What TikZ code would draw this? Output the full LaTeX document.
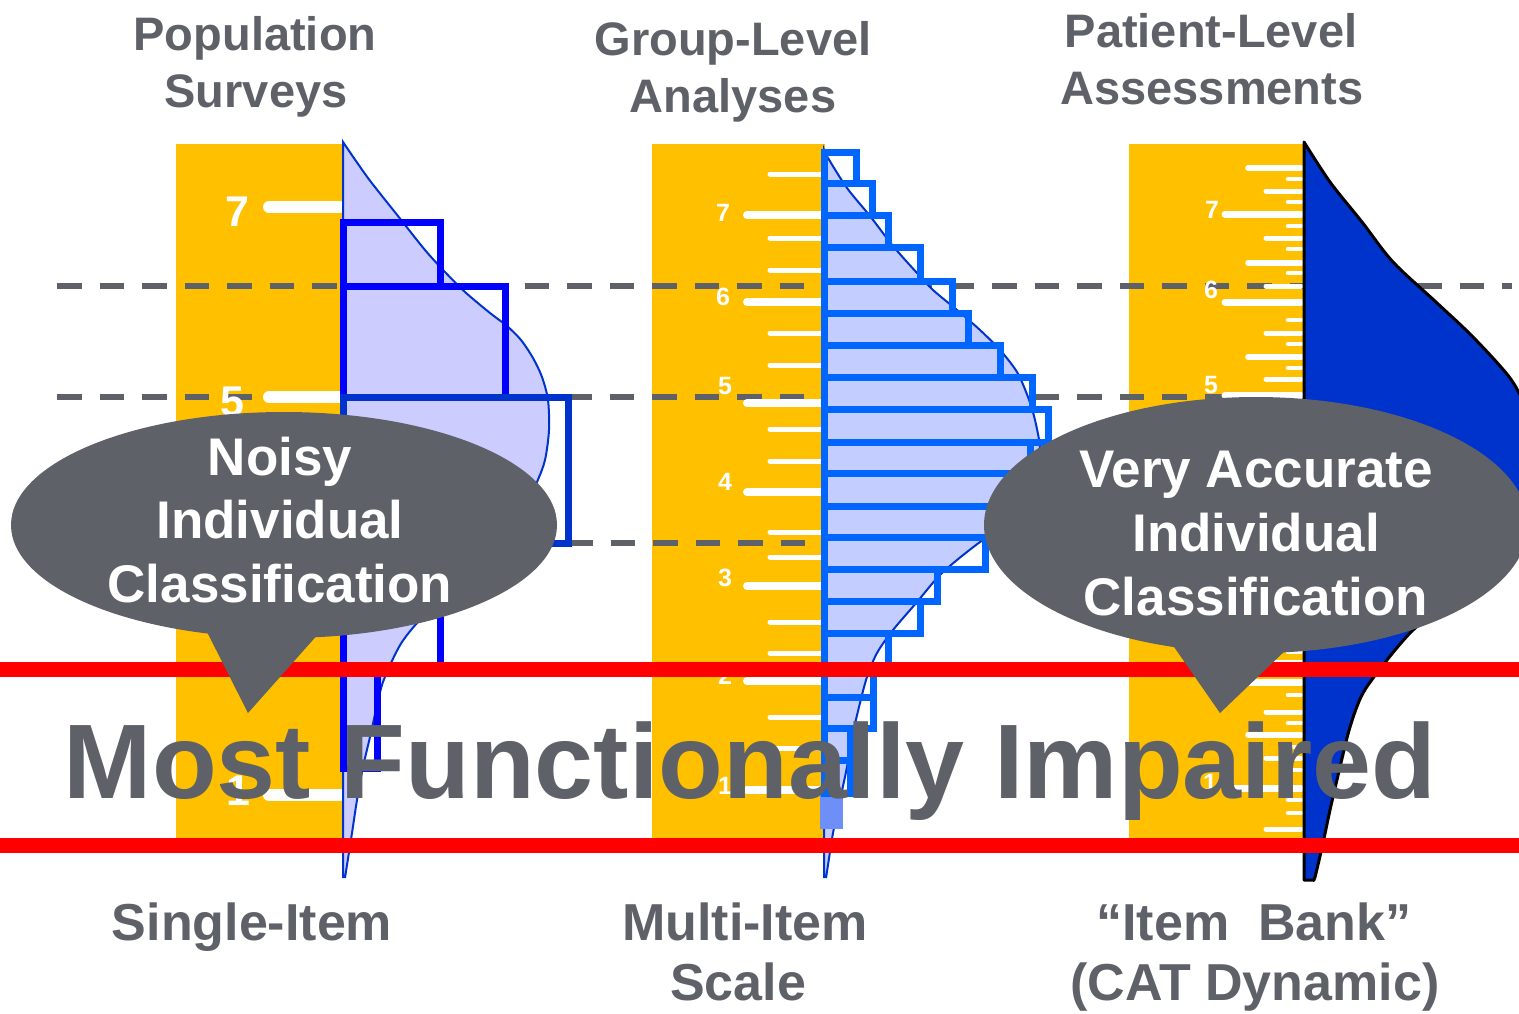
\documentclass[tikz,border=0pt]{standalone}
\usepackage{fontspec}
\setmainfont{Liberation Sans}
\definecolor{gold}{HTML}{FFC000}
\definecolor{slate}{HTML}{5F6168}
\definecolor{pureblue}{HTML}{0000FF}
\definecolor{deepblue}{HTML}{0033CC}
\definecolor{midblue}{HTML}{0066FF}
\definecolor{lavender}{HTML}{CCCCFF}
\definecolor{paleblue}{HTML}{C3CDFF}
\definecolor{fadeblue}{HTML}{6E8FF8}
\definecolor{alarm}{HTML}{FF0000}
\tikzset{
  ruler/.style={fill=gold, draw=none},
  guide/.style={draw=slate, line width=6pt, dash pattern=on 24.5pt off 18pt},
  lefttick/.style={draw=white, line width=12pt, line cap=round},
  midlong/.style={draw=white, line width=8pt, line cap=round},
  midshort/.style={draw=white, line width=5pt, line cap=round},
  rtL/.style={draw=white, line width=7pt, line cap=round},
  rtML/.style={draw=white, line width=5.5pt, line cap=round},
  rtM/.style={draw=white, line width=5pt, line cap=round},
  rtS/.style={draw=white, line width=4.5pt, line cap=round},
  biglabel/.style={text=white, inner sep=0, font=\fontsize{43}{43}\selectfont\bfseries},
  smalllabel/.style={text=white, inner sep=0, font=\fontsize{25}{25}\selectfont\bfseries},
  leftbar/.style={draw=pureblue, line width=7pt},
  midbar/.style={draw=midblue, line width=7pt},
  thincurve/.style={draw=deepblue, line width=2pt},
  redline/.style={draw=alarm, line width=15pt},
  bubble/.style={fill=slate},
  bubbletext/.style={text=white, inner sep=0, anchor=base, font=\fontsize{53}{63}\selectfont\bfseries},
  titletext/.style={text=slate, inner sep=0, anchor=base, font=\fontsize{47}{56}\selectfont\bfseries},
  foottext/.style={text=slate, inner sep=0, anchor=base, font=\fontsize{52}{60}\selectfont\bfseries},
  hugetext/.style={text=slate, inner sep=0, anchor=base, font=\fontsize{106}{110}\selectfont\bfseries}
}
\begin{document}
\begin{tikzpicture}[x=1pt,y=-1pt]
\useasboundingbox (0,0) rectangle (1519,1013);
\clip (0,0) rectangle (1519,1013);

% rulers
\fill[ruler] (176,144) rectangle (343,838);
\fill[ruler] (652,144) rectangle (825,838);
\fill[ruler] (1129,144) rectangle (1304,838);

% dashed guide lines
\draw[guide] (57,286) -- (1512,286);
\draw[guide] (57,397) -- (1512,397);
\draw[guide] (568,543) -- (806,543);

% left ruler ticks and labels
\foreach \yy in {207,397,795} \draw[lefttick] (269,\yy) -- (340,\yy);
\node[biglabel] (l7) at (237,212) {7};
\node[biglabel] (l5) at (232,402) {5};
\node[biglabel] (l1) at (238,791) {1};

% middle ruler ticks and labels
\foreach \yy in {215,302,403,492,586,681,790} \draw[midlong] (747,\yy) -- (821,\yy);
\foreach \yy in {174,238,270,333,365,429,461,532,557,622,653,717,748} \draw[midshort] (770,\yy) -- (821,\yy);
\node[smalllabel] (m7) at (723,213) {7};
\node[smalllabel] (m6) at (723,297) {6};
\node[smalllabel] (m5) at (725,386) {5};
\node[smalllabel] (m4) at (725,482) {4};
\node[smalllabel] (m3) at (725,578) {3};
\node[smalllabel] (m2) at (725,676) {2};
\node[smalllabel] (m1) at (725,786) {1};

% right ruler ticks and labels
\foreach \yy in {214,302,395,490,586,682,788} \draw[rtL] (1225,\yy) -- (1301,\yy);
\foreach \yy in {168,263,357,452,547,640,735} \draw[rtML] (1248,\yy) -- (1301,\yy);
\foreach \yy in {191,238,286,333,379,428,475,522,570,617,662,712,758,829} \draw[rtM] (1266,\yy) -- (1301,\yy);
\foreach \yy in {179,202,226,249,273,320,344,368,415,440,464,510,535,558,604,628,652,695,723,747,770,800,813} \draw[rtS] (1288,\yy) -- (1301,\yy);
\node[smalllabel] (r7) at (1212,210) {7};
\node[smalllabel] (r6) at (1211,290) {6};
\node[smalllabel] (r5) at (1211,385) {5};
\node[smalllabel] (r1) at (1210,783) {1};

% left density
\path[fill=lavender] (343,878) -- (343,142) -- plot[smooth, tension=0.5] coordinates {(343,142) (368,178) (398,216) (425,250) (445,272) (465,292) (490,313) (507,326) (521,340) (533,358) (542,377) (548,400) (549,430) (545,460) (537,482) (522,515) (500,548) (470,578) (440,602) (418,622) (402,642) (391,663) (382,685) (376,710) (370,737) (363,767) (357,800) (352,833) (347,865) (345,878)} -- cycle;
\draw[thincurve] (343,878) -- (343,142) -- plot[smooth, tension=0.5] coordinates {(343,142) (368,178) (398,216) (425,250) (445,272) (465,292) (490,313) (507,326) (521,340) (533,358) (542,377) (548,400) (549,430) (545,460) (537,482) (522,515) (500,548) (470,578) (440,602) (418,622) (402,642) (391,663) (382,685) (376,710) (370,737) (363,767) (357,800) (352,833) (347,865) (345,878)};

% middle density
\path[fill=paleblue] (824,878) -- (824,150) -- plot[smooth, tension=0.5] coordinates {(824,150) (828,158) (847,188) (870,216) (893,246) (917,273) (933,290) (957,310) (980,330) (1000,350) (1017,372) (1028,397) (1035,420) (1040,448) (1038,475) (1025,505) (1005,525) (980,542) (957,560) (938,577) (917,602) (893,630) (877,653) (867,677) (860,703) (853,733) (847,767) (840,800) (833,833) (828,865) (826,878)} -- cycle;
\draw[thincurve] (824,878) -- (824,150) -- plot[smooth, tension=0.5] coordinates {(824,150) (828,158) (847,188) (870,216) (893,246) (917,273) (933,290) (957,310) (980,330) (1000,350) (1017,372) (1028,397) (1035,420) (1040,448) (1038,475) (1025,505) (1005,525) (980,542) (957,560) (938,577) (917,602) (893,630) (877,653) (867,677) (860,703) (853,733) (847,767) (840,800) (833,833) (828,865) (826,878)};

% right density
\path[fill=deepblue, draw=black, line width=3pt, line join=round] (1304,880) -- (1304,142) -- plot[smooth, tension=0.5] coordinates {(1304,142) (1330,182) (1362,222) (1393,262) (1437,303) (1473,337) (1510,378) (1527,410) (1540,445) (1544,480) (1532,522) (1500,560) (1462,592) (1432,614) (1410,633) (1387,660) (1363,693) (1350,727) (1340,767) (1330,810) (1323,843) (1315,877) (1313,880)} -- cycle;

% left histogram
\draw[leftbar] (343,222) rectangle (440,286);
\draw[leftbar] (343,286) rectangle (505,397);
\draw[leftbar] (343,543) rectangle (440,665);
\draw[leftbar] (343,665) rectangle (377,768);
\draw[leftbar, draw=deepblue] (343,397) rectangle (568,543);

% middle histogram
\fill[fadeblue] (820,795) rectangle (843,829);
\foreach \ta/\tb/\rx in {152/183/856, 183/215/872, 215/247/888, 247/281/920, 281/313/952, 313/345/968, 345/377/1000, 377/409/1032, 409/442/1048, 442/473/1030, 473/506/1012, 506/537/998, 537/569/985, 569/601/937, 601/633/920, 633/665/888, 665/697/873, 697/728/873, 728/760/850, 760/793/850}
  \draw[midbar] (824,\ta) rectangle (\rx,\tb);

% red boundary lines
\draw[redline] (0,669) -- (1519,669);
\draw[redline] (0,845) -- (1519,845);

% callouts
\fill[bubble] (284,525) ellipse [x radius=273, y radius=113];
\fill[bubble] (205,628) -- (248,713) -- (320,632) -- cycle;
\fill[bubble] (1256,525) ellipse [x radius=272, y radius=128];
\fill[bubble] (1172,644) -- (1220,713) -- (1288,648) -- cycle;

\node[bubbletext] (n1) at (280,475) {Noisy};
\node[bubbletext] (n2) at (280,538) {Individual};
\node[bubbletext] (n3) at (280,602) {Classification};
\node[bubbletext] (v1) at (1256,487) {Very Accurate};
\node[bubbletext] (v2) at (1256,551) {Individual};
\node[bubbletext] (v3) at (1256,615) {Classification};

% big caption
\node[hugetext] (most) at (750,798) {Most Functionally Impaired};

% column titles
\node[titletext] (t1a) at (255,50) {Population};
\node[titletext] (t1b) at (256,107) {Surveys};
\node[titletext] (t2a) at (733,55) {Group-Level};
\node[titletext] (t2b) at (733,112) {Analyses};
\node[titletext] (t3a) at (1211,47) {Patient-Level};
\node[titletext] (t3b) at (1212,104) {Assessments};

% footers
\node[foottext] (f1) at (252,940) {Single-Item};
\node[foottext] (f2a) at (745,940) {Multi-Item};
\node[foottext] (f2b) at (738,1000) {Scale};
\node[foottext] (f3a) at (1254,940) {“Item\ \ Bank”};
\node[foottext] (f3b) at (1255,1000) {(CAT Dynamic)};
\end{tikzpicture}
\end{document}
